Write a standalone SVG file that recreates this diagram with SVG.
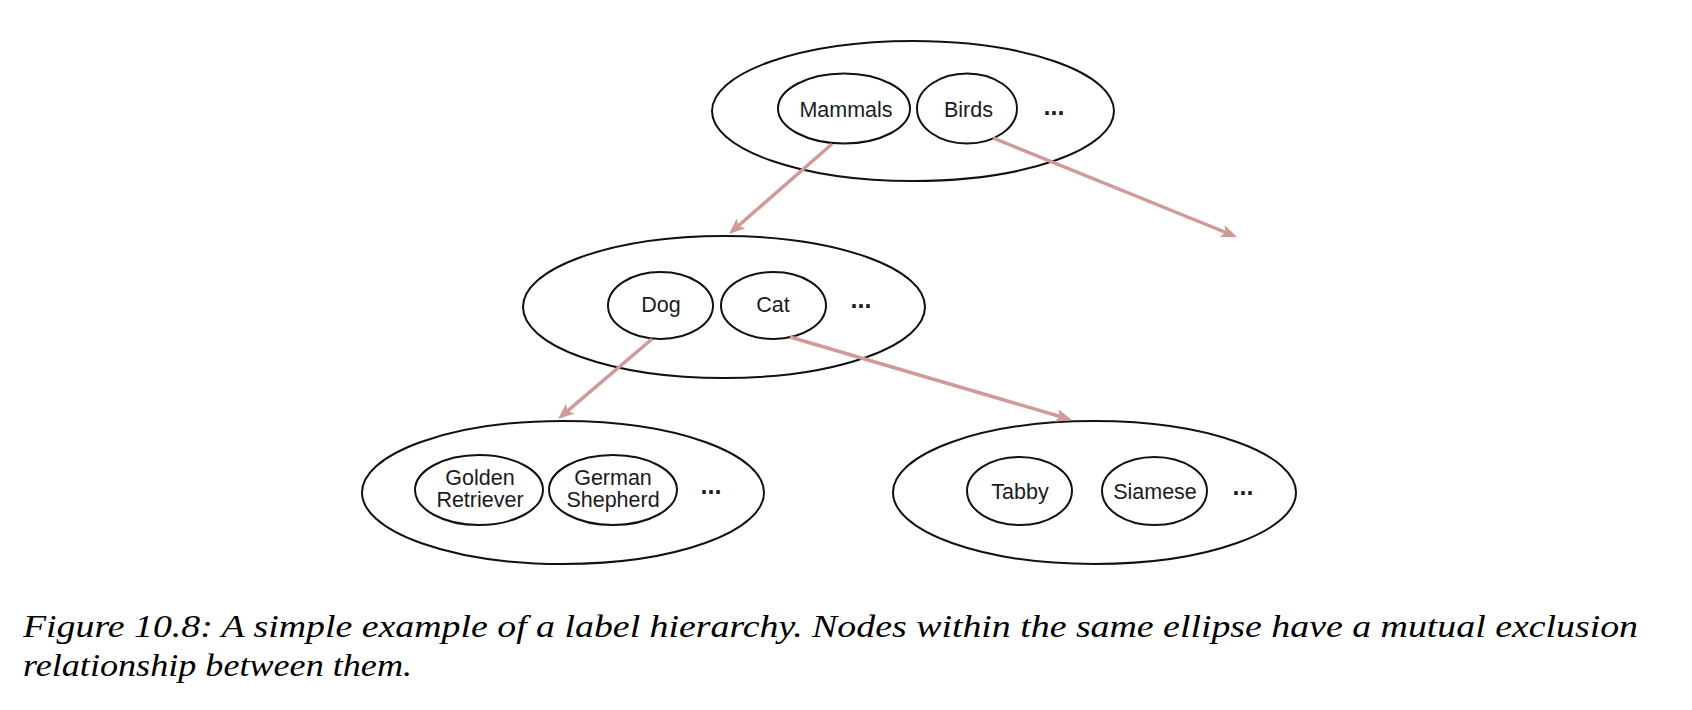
<svg xmlns="http://www.w3.org/2000/svg" width="1692" height="710" viewBox="0 0 1692 710">
<style>
.outer{fill:none;stroke:#111;stroke-width:2}
.inner{fill:none;stroke:#111;stroke-width:2}
.lbl{font-family:"Liberation Sans",Arial,sans-serif;font-size:21.5px;fill:#1b1b22;text-anchor:middle}
.dots{font-family:"Liberation Sans",Arial,sans-serif;font-size:25px;font-weight:bold;fill:#1b1b22;text-anchor:middle}
.edge{stroke:#cf9a97;stroke-width:3.5;fill:none}
.cap{font-family:"Liberation Serif","Times New Roman",serif;font-style:italic;font-size:32px;fill:#000}
</style>
<defs>
<marker id="ah" markerUnits="userSpaceOnUse" markerWidth="18" markerHeight="14" refX="8" refY="6.5" orient="auto" viewBox="0 0 18 13">
<path d="M0,0 L16,6.5 L0,13 L3.5,6.5 z" fill="#cf9a97"/>
</marker>
</defs>
<rect width="1692" height="710" fill="#fff"/>

<g id="top">
<ellipse class="outer" cx="913" cy="111" rx="201" ry="70"/>
<g id="mammals"><ellipse class="inner" cx="844" cy="108.5" rx="66" ry="35"/><text class="lbl" x="846" y="117">Mammals</text></g>
<g id="birds"><ellipse class="inner" cx="967" cy="108.5" rx="50" ry="35"/><text class="lbl" x="968.5" y="117">Birds</text></g>
<text class="dots" x="1054" y="115">...</text>
</g>

<g id="middle">
<ellipse class="outer" cx="724" cy="307" rx="201" ry="71"/>
<g id="dog"><ellipse class="inner" cx="660.5" cy="305.5" rx="52.5" ry="33.5"/><text class="lbl" x="661" y="312">Dog</text></g>
<g id="cat"><ellipse class="inner" cx="773.5" cy="305.5" rx="52.5" ry="33.5"/><text class="lbl" x="773" y="312">Cat</text></g>
<text class="dots" x="861" y="308">...</text>
</g>

<g id="dogs">
<ellipse class="outer" cx="563" cy="492.5" rx="201" ry="71.5"/>
<g id="golden"><ellipse class="inner" cx="479" cy="490" rx="64" ry="35"/><text class="lbl" x="480" y="485">Golden</text><text class="lbl" x="480" y="507">Retriever</text></g>
<g id="german"><ellipse class="inner" cx="613" cy="490" rx="64" ry="35"/><text class="lbl" x="613" y="485">German</text><text class="lbl" x="613" y="507">Shepherd</text></g>
<text class="dots" x="711" y="494">...</text>
</g>

<g id="cats">
<ellipse class="outer" cx="1094.5" cy="492.5" rx="201.5" ry="71.5"/>
<g id="tabby"><ellipse class="inner" cx="1019.5" cy="491" rx="52.5" ry="34"/><text class="lbl" x="1020" y="499">Tabby</text></g>
<g id="siamese"><ellipse class="inner" cx="1154.5" cy="491" rx="52.5" ry="34"/><text class="lbl" x="1155" y="499">Siamese</text></g>
<text class="dots" x="1243" y="495">...</text>
</g>

<g id="connectors">
<line class="edge" x1="832" y1="144" x2="735" y2="228.7" marker-end="url(#ah)"/>
<line class="edge" x1="993" y1="138" x2="1229.6" y2="234" marker-end="url(#ah)"/>
<line class="edge" x1="652" y1="339" x2="564.1" y2="413.8" marker-end="url(#ah)"/>
<line class="edge" x1="790" y1="337" x2="1064.3" y2="417.7" marker-end="url(#ah)"/>
</g>

<g id="caption">
<text class="cap" x="23" y="637" textLength="1615" lengthAdjust="spacingAndGlyphs">Figure 10.8: A simple example of a label hierarchy. Nodes within the same ellipse have a mutual exclusion</text>
<text class="cap" x="23" y="676" textLength="389" lengthAdjust="spacingAndGlyphs">relationship between them.</text>
</g>
</svg>
